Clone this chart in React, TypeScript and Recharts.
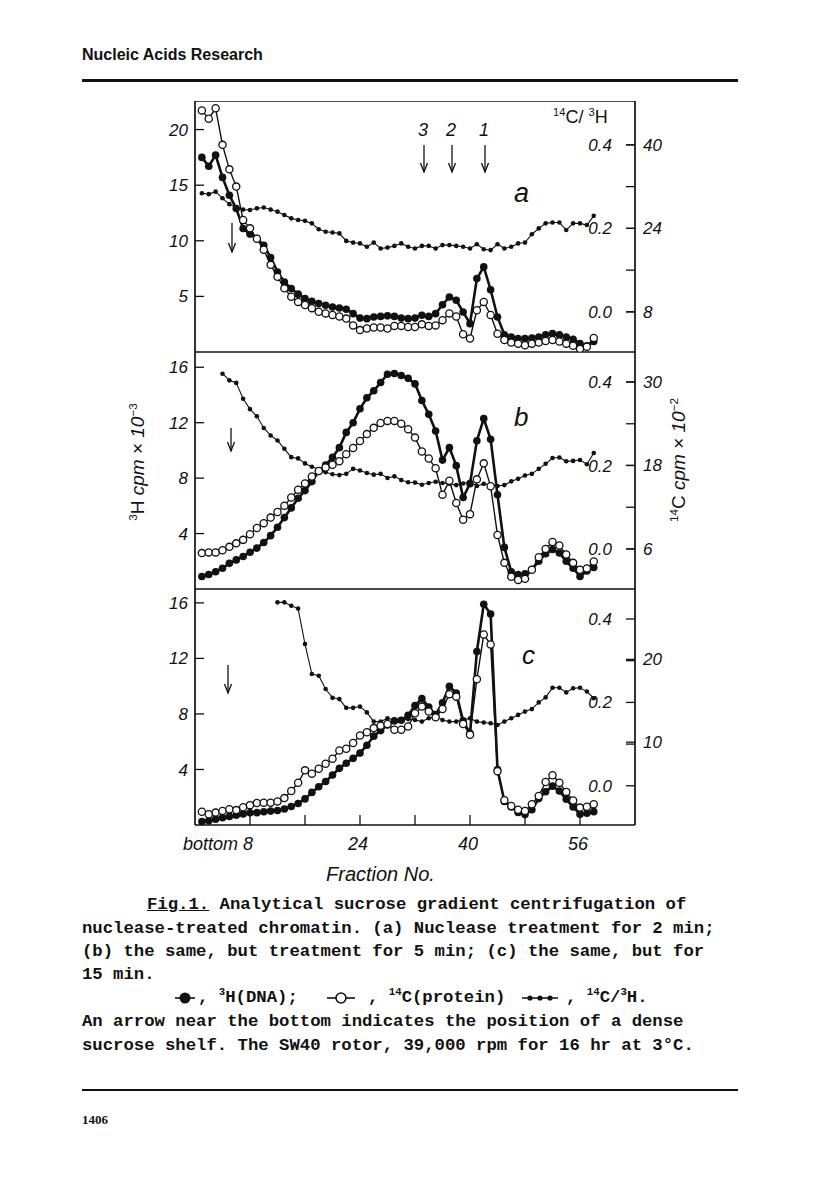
import React from "react";
import { LineChart, Line, XAxis, YAxis, ReferenceLine } from "recharts";

const INK = "#111";
const AXIS_FONT = "'Liberation Sans', Arial, sans-serif";
const TYPE_FONT = "'Liberation Mono', 'Courier New', monospace";

const FRACTIONS = [
  1, 2, 3, 4, 5, 6, 7, 8, 9, 10, 11, 12, 13, 14, 15, 16, 17, 18, 19, 20,
  21, 22, 23, 24, 25, 26, 27, 28, 29, 30, 31, 32, 33, 34, 35, 36, 37, 38, 39, 40,
  41, 42, 43, 44, 45, 46, 47, 48, 49, 50, 51, 52, 53, 54, 55, 56, 57, 58,
];
const X_TICKS = [8, 16, 24, 32, 40, 48, 56];
const X_LABELS: Record<number, string> = { 8: "bottom 8", 24: "24", 40: "40", 56: "56" };
const RATIO_TICKS = [0, 0.1, 0.2, 0.3, 0.4];

// (a) 2 min
const H3_A = [
  17.5, 16.7, 17.7, 15.7, 14.1, 12.9, 11.1, 10.6, 10.2, 9.6,
  8.5, 7.2, 6.3, 5.7, 5.2, 4.8, 4.55, 4.35, 4.2, 4.05,
  3.95, 3.85, 3.45, 3.05, 3.0, 3.15, 3.2, 3.25, 3.2, 3.05,
  3.0, 3.05, 3.3, 3.2, 3.45, 4.25, 4.95, 4.65, 3.6, 2.55,
  6.6, 7.65, 5.6, 3.15, 1.55, 1.35, 1.2, 1.2, 1.25, 1.35,
  1.55, 1.65, 1.55, 1.35, 1.15, 0.75, 0.55, 0.95,
];
const C14_A = [
  46.6, 45, 47, 40, 35.3, 32, 25.6, 24, 22, 19.9,
  17, 14.7, 12.5, 10.9, 9.9, 9.3, 8.7, 8.0, 7.7, 7.4,
  7.1, 6.7, 5.4, 4.5, 4.8, 5.0, 5.0, 4.8, 5.3, 5.3,
  5.1, 5.1, 5.6, 5.3, 5.4, 6.4, 7.7, 7.1, 3.7, 2.9,
  8.3, 9.9, 7.4, 3.8, 2.6, 2.1, 1.9, 1.6, 1.9, 2.1,
  2.4, 2.6, 2.3, 1.9, 1.5, 0.9, 1.3, 3.0,
];
const RATIO_A = [
  0.284, 0.282, 0.288, 0.272, 0.258, 0.25, 0.245, 0.244, 0.248, 0.25,
  0.245, 0.24, 0.232, 0.224, 0.22, 0.218, 0.212, 0.198, 0.192, 0.19,
  0.188, 0.17, 0.166, 0.164, 0.156, 0.166, 0.152, 0.154, 0.158, 0.164,
  0.156, 0.152, 0.158, 0.158, 0.152, 0.16, 0.16, 0.158, 0.156, 0.152,
  0.162, 0.15, 0.148, 0.162, 0.152, 0.156, 0.164, 0.166, 0.186, 0.2,
  0.212, 0.214, 0.214, 0.196, 0.212, 0.212, 0.208, 0.23,
];

// (b) 5 min
const H3_B = [
  0.9, 1.05, 1.25, 1.5, 1.85, 2.1, 2.35, 2.65, 2.95, 3.35,
  3.85, 4.45, 5.15, 5.85, 6.55, 7.1, 7.75, 8.5, 8.95, 9.5,
  10.2, 11.3, 12.0, 13.0, 13.8, 14.3, 14.9, 15.5, 15.55, 15.4,
  15.2, 14.8, 13.6, 12.6, 11.4, 9.3, 10.2, 8.9, 6.6, 7.6,
  10.7, 12.3, 10.8, 6.8, 3.0, 1.25, 1.05, 1.1, 1.4, 2.0,
  2.55, 2.85, 2.6, 2.0, 1.5, 0.9, 1.3, 1.55,
];
const C14_B = [
  5.4, 5.5, 5.5, 5.8, 6.3, 6.8, 7.3, 8.1, 9.0, 9.7,
  10.5, 11.3, 12.2, 13.4, 14.5, 15.4, 16.4, 17.2, 17.7, 18.1,
  18.6, 19.6, 20.5, 21.5, 22.5, 23.4, 24.1, 24.4, 24.4, 24.0,
  23.2, 22.0, 20.0, 19.0, 17.6, 13.8, 15.8, 12.6, 10.2, 11.0,
  16.0, 18.3, 15.0, 8.0, 4.0, 2.0, 1.55, 1.7, 3.0, 4.8,
  6.0, 7.0, 6.5, 5.2, 4.0, 3.0, 3.2, 4.2,
];
const RATIO_B = [
  null, null, null, 0.42, 0.404, 0.398, 0.36, 0.335, 0.318, 0.29,
  0.272, 0.26, 0.24, 0.22, 0.217, 0.205, 0.197, 0.191, 0.184, 0.179,
  0.177, 0.18, 0.192, 0.188, 0.182, 0.178, 0.18, 0.17, 0.174, 0.165,
  0.16, 0.159, 0.154, 0.158, 0.161, 0.158, 0.156, 0.153, 0.157, 0.161,
  0.151, 0.156, 0.154, 0.151, 0.153, 0.162, 0.168, 0.176, 0.18, 0.192,
  0.204, 0.218, 0.219, 0.21, 0.211, 0.213, 0.203, 0.23,
];

// (c) 15 min
const H3_C = [
  0.25, 0.3, 0.42, 0.52, 0.62, 0.7, 0.8, 0.88, 0.89, 0.95,
  1.0, 1.04, 1.15, 1.33, 1.55, 1.88, 2.35, 2.75, 3.13, 3.6,
  4.08, 4.45, 4.8, 5.18, 5.75, 6.4, 6.8, 7.2, 7.5, 7.55,
  7.9, 8.6, 9.1, 8.5, 7.95, 8.8, 10.0, 9.5, 7.5, 6.6,
  12.5, 15.9, 15.2, 4.0, 1.7, 1.3, 0.9, 0.75, 1.1, 1.9,
  2.4, 2.8, 2.45, 1.85, 1.3, 0.78, 0.85, 0.96,
];
const C14_C = [
  1.6, 1.3, 1.5, 1.7, 1.9, 1.8, 2.15, 2.4, 2.65, 2.7,
  2.7, 2.85, 3.25, 4.1, 5.1, 6.6, 6.2, 6.8, 7.4, 8.0,
  9.0, 9.2, 9.9, 10.8, 11.2, 11.7, 12.0, 12.2, 11.5, 11.5,
  11.9, 13.5, 14.3, 13.7, 13.0, 14.0, 15.8, 15.5, 12.2, 10.9,
  17.6, 23.0, 21.8, 6.5, 3.0, 2.3, 1.85, 1.7, 2.5, 3.5,
  5.2, 6.0, 5.1, 4.0, 2.95, 2.1, 2.2, 2.5,
];
const RATIO_C = [
  null, null, null, null, null, null, null, null, null, null,
  null, 0.44, 0.44, 0.432, 0.425, 0.34, 0.268, 0.264, 0.232, 0.211,
  0.208, 0.187, 0.187, 0.19, 0.176, 0.154, 0.154, 0.162, 0.158, 0.158,
  0.16, 0.158, 0.154, 0.162, 0.166, 0.158, 0.154, 0.154, 0.158, 0.162,
  0.154, 0.152, 0.15, 0.146, 0.154, 0.162, 0.17, 0.178, 0.184, 0.2,
  0.212, 0.235, 0.235, 0.224, 0.234, 0.235, 0.226, 0.21,
];

const tickText = { fill: INK, fontSize: 17, fontStyle: "italic", fontFamily: AXIS_FONT };
const borderLine = { stroke: INK, strokeWidth: 1.7 };
const tickStroke = { stroke: INK, strokeWidth: 1.3 };

const fmtRatio = (v: number) => (v === 0 || v === 0.2 || v === 0.4 ? v.toFixed(1) : "");

function FractionTick(props: any) {
  const { x, y, payload } = props;
  const label = X_LABELS[payload.value];
  if (!label) return <g />;
  const first = payload.value === 8;
  return (
    <text
      x={first ? x + 3 : x - 2}
      y={y}
      dy={15}
      textAnchor={first ? "end" : "middle"}
      fill={INK}
      fontSize={18}
      fontStyle="italic"
      fontFamily={AXIS_FONT}
    >
      {label}
    </text>
  );
}

type PanelProps = {
  top: number;
  plotHeight: number;
  h3: number[];
  c14: number[];
  ratio: (number | null)[];
  h3Max: number;
  h3Ticks: number[];
  c14Domain: [number, number];
  c14Ticks: number[];
  ratioDomain: [number, number];
  closeTop?: boolean;
  xLabels?: boolean;
};

function Panel(p: PanelProps) {
  const rows = FRACTIONS.map((f, i) => ({ f, h3: p.h3[i], c14: p.c14[i], ratio: p.ratio[i] }));
  const axisHeight = p.xLabels ? 34 : 1;
  return (
    <div style={{ position: "absolute", left: 0, top: p.top }}>
      <LineChart
        width={816}
        height={p.plotHeight + axisHeight}
        data={rows}
        margin={{ top: 0, right: 136, bottom: 0, left: 155 }}
      >
        <XAxis
          dataKey="f"
          type="number"
          domain={[0, 64]}
          ticks={X_TICKS}
          interval={0}
          allowDataOverflow
          height={axisHeight}
          axisLine={borderLine}
          tickLine={tickStroke}
          tickSize={-10}
          tickMargin={20}
          tick={p.xLabels ? (t: any) => <FractionTick {...t} /> : false}
        />
        <YAxis
          yAxisId="h3"
          orientation="left"
          width={40}
          domain={[0, p.h3Max]}
          ticks={p.h3Ticks}
          interval={0}
          allowDataOverflow
          axisLine={borderLine}
          tickLine={tickStroke}
          tickSize={-9}
          tickMargin={16}
          tick={tickText}
        />
        <YAxis
          yAxisId="c14"
          orientation="right"
          width={45}
          domain={p.c14Domain}
          ticks={p.c14Ticks}
          interval={0}
          allowDataOverflow
          axisLine={borderLine}
          tickLine={tickStroke}
          tickSize={-9}
          tickMargin={17}
          tick={tickText}
        />
        <YAxis
          yAxisId="ratio"
          orientation="right"
          mirror
          width={40}
          domain={p.ratioDomain}
          ticks={RATIO_TICKS}
          interval={0}
          allowDataOverflow
          axisLine={false}
          tickLine={tickStroke}
          tickSize={9}
          tickMargin={14}
          tick={tickText}
          tickFormatter={fmtRatio}
        />
        {p.closeTop && <ReferenceLine yAxisId="h3" y={p.h3Max} stroke={INK} strokeWidth={1.7} />}
        <Line
          yAxisId="ratio"
          dataKey="ratio"
          type="linear"
          stroke={INK}
          strokeWidth={1.1}
          dot={{ r: 2.3, fill: INK, stroke: INK, strokeWidth: 0 }}
          activeDot={false}
          isAnimationActive={false}
        />
        <Line
          yAxisId="h3"
          dataKey="h3"
          type="linear"
          stroke={INK}
          strokeWidth={2.6}
          dot={{ r: 3.8, fill: INK, stroke: INK, strokeWidth: 0 }}
          activeDot={false}
          isAnimationActive={false}
        />
        <Line
          yAxisId="c14"
          dataKey="c14"
          type="linear"
          stroke={INK}
          strokeWidth={1.4}
          dot={{ r: 3.6, fill: "#fff", stroke: INK, strokeWidth: 1.3 }}
          activeDot={false}
          isAnimationActive={false}
        />
      </LineChart>
    </div>
  );
}

function Note({ x, y, size = 18, italic = false, children, style }: any) {
  return (
    <div
      style={{
        position: "absolute",
        left: x,
        top: y,
        fontFamily: AXIS_FONT,
        fontSize: size,
        fontStyle: italic ? "italic" : "normal",
        lineHeight: 1,
        whiteSpace: "nowrap",
        color: INK,
        ...style,
      }}
    >
      {children}
    </div>
  );
}

function Arrow({ x, y1, y2 }: { x: number; y1: number; y2: number }) {
  return (
    <g stroke={INK} strokeWidth={1.3} fill="none">
      <line x1={x} y1={y1} x2={x} y2={y2} />
      <path d={`M${x - 3.5},${y2 - 9} L${x},${y2} L${x + 3.5},${y2 - 9}`} />
    </g>
  );
}

const sup = { fontSize: "0.62em", verticalAlign: "super", lineHeight: 0 } as const;

function Caption({ y, x = 82, children }: any) {
  return (
    <div
      style={{
        position: "absolute",
        left: x,
        top: y - 11,
        fontFamily: TYPE_FONT,
        fontWeight: 700,
        fontSize: 17.3,
        lineHeight: "22px",
        whiteSpace: "pre",
        color: INK,
      }}
    >
      {children}
    </div>
  );
}

export default function App() {
  return (
    <div
      style={{
        position: "absolute",
        left: 0,
        top: 0,
        width: 816,
        height: 1194,
        background: "#fff",
        overflow: "hidden",
      }}
    >
      <div
        style={{
          position: "absolute",
          left: 82,
          top: 46,
          fontFamily: AXIS_FONT,
          fontWeight: 700,
          fontSize: 16,
          color: INK,
        }}
      >
        Nucleic Acids Research
      </div>
      <div style={{ position: "absolute", left: 82, top: 79, width: 656, height: 2.5, background: INK }} />

      <Panel
        top={101}
        plotHeight={251}
        h3={H3_A}
        c14={C14_A}
        ratio={RATIO_A}
        h3Max={22.57}
        h3Ticks={[5, 10, 15, 20]}
        c14Domain={[0.3, 48.4]}
        c14Ticks={[8, 24, 40]}
        ratioDomain={[-0.096, 0.505]}
        closeTop
      />
      <Panel
        top={352}
        plotHeight={237}
        h3={H3_B}
        c14={C14_B}
        ratio={RATIO_B}
        h3Max={17.1}
        h3Ticks={[4, 8, 12, 16]}
        c14Domain={[0.24, 34.3]}
        c14Ticks={[6, 18, 30]}
        ratioDomain={[-0.096, 0.472]}
      />
      <Panel
        top={589}
        plotHeight={236}
        h3={H3_C}
        c14={C14_C}
        ratio={RATIO_C}
        h3Max={17.0}
        h3Ticks={[4, 8, 12, 16]}
        c14Domain={[0, 28.5]}
        c14Ticks={[10, 20]}
        ratioDomain={[-0.094, 0.472]}
        xLabels
      />

      <svg width={816} height={1194} style={{ position: "absolute", left: 0, top: 0, pointerEvents: "none" }}>
        <Arrow x={424} y1={145} y2={172} />
        <Arrow x={452} y1={145} y2={172} />
        <Arrow x={485} y1={145} y2={172} />
        <Arrow x={232} y1={223} y2={252} />
        <Arrow x={231} y1={428} y2={451} />
        <Arrow x={228} y1={665} y2={693} />
      </svg>

      <Note x={418} y={121} italic>3</Note>
      <Note x={446} y={121} italic>2</Note>
      <Note x={479} y={121} italic>1</Note>
      <Note x={553} y={108}>
        <span style={sup}>14</span>C/ <span style={sup}>3</span>H
      </Note>
      <Note x={514} y={180} size={27} italic>a</Note>
      <Note x={514} y={404} size={26} italic>b</Note>
      <Note x={522} y={642} size={26} italic>c</Note>

      <div
        style={{
          position: "absolute",
          left: 138,
          top: 462,
          transform: "translate(-50%, -50%) rotate(-90deg)",
          whiteSpace: "nowrap",
          fontFamily: AXIS_FONT,
          fontSize: 19,
          color: INK,
        }}
      >
        <span style={sup}>3</span>H <i>cpm</i> × <i>10</i>
        <span style={sup}>−3</span>
      </div>
      <div
        style={{
          position: "absolute",
          left: 679,
          top: 460,
          transform: "translate(-50%, -50%) rotate(-90deg)",
          whiteSpace: "nowrap",
          fontFamily: AXIS_FONT,
          fontSize: 19,
          color: INK,
        }}
      >
        <span style={sup}>14</span>C <i>cpm</i> × <i>10</i>
        <span style={sup}>−2</span>
      </div>
      <Note x={326} y={864} size={20} italic>Fraction No.</Note>

      <Caption y={905} x={147}>
        <span style={{ textDecoration: "underline" }}>Fig.1.</span> Analytical sucrose gradient centrifugation of
      </Caption>
      <Caption y={929}>nuclease-treated chromatin. (a) Nuclease treatment for 2 min;</Caption>
      <Caption y={952}>(b) the same, but treatment for 5 min; (c) the same, but for</Caption>
      <Caption y={975}>15 min.</Caption>

      <svg width={816} height={30} style={{ position: "absolute", left: 0, top: 983, pointerEvents: "none" }}>
        <g stroke={INK} strokeWidth={1.6}>
          <line x1={175} y1={15} x2={195} y2={15} />
          <line x1={327} y1={15} x2={355} y2={15} />
          <line x1={522} y1={15} x2={558} y2={15} />
        </g>
        <circle cx={185} cy={15} r={5.5} fill={INK} />
        <circle cx={341} cy={15} r={5} fill="#fff" stroke={INK} strokeWidth={1.6} />
        <circle cx={530} cy={15} r={2.6} fill={INK} />
        <circle cx={540} cy={15} r={2.6} fill={INK} />
        <circle cx={550} cy={15} r={2.6} fill={INK} />
      </svg>
      <Caption y={998} x={198}>
        , <span style={sup}>3</span>H(DNA);
      </Caption>
      <Caption y={998} x={368}>
        , <span style={sup}>14</span>C(protein)
      </Caption>
      <Caption y={998} x={566}>
        , <span style={sup}>14</span>C/<span style={sup}>3</span>H.
      </Caption>
      <Caption y={1022}>An arrow near the bottom indicates the position of a dense</Caption>
      <Caption y={1046}>sucrose shelf. The SW40 rotor, 39,000 rpm for 16 hr at 3°C.</Caption>

      <div style={{ position: "absolute", left: 82, top: 1089, width: 656, height: 1.5, background: INK }} />
      <div
        style={{
          position: "absolute",
          left: 82,
          top: 1112,
          fontFamily: "'Liberation Serif', serif",
          fontWeight: 700,
          fontSize: 13,
          color: INK,
        }}
      >
        1406
      </div>
    </div>
  );
}
